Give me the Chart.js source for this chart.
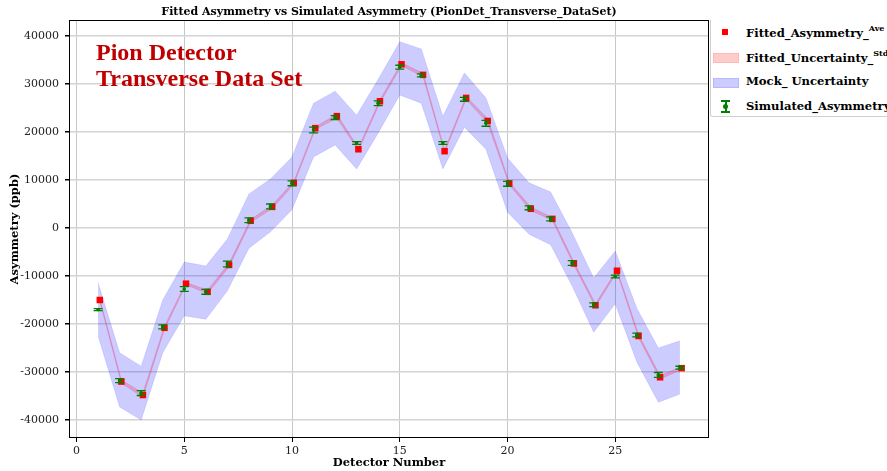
<!DOCTYPE html>
<html>
<head>
<meta charset="utf-8">
<script src="https://cdn.jsdelivr.net/npm/chart.js@4.4.1/dist/chart.umd.min.js"></script>
<style>
  body { margin: 0; background: #fff; }
  #wrap { position: relative; width: 887px; height: 471px; overflow: hidden; }
  #legend { position: absolute; left: 710px; top: 20px; width: 200px; height: 96px;
            border: 1px solid #d0d0d0; border-top: none; border-radius: 0 0 0 3px; background: #fff;
            font-family: "DejaVu Serif", serif; font-weight: bold; font-size: 11.6px; color: #000; }
  .item { position: absolute; left: 35px; white-space: nowrap; }
  .item sup { font-size: 8px; position: relative; top: -1px; }
  .sw { position: absolute; }
</style>
</head>
<body>
<div id="wrap">
  <canvas id="chart" width="887" height="471"></canvas>
  <div id="legend">
    <div class="sw" style="left:11px;top:9px;width:6px;height:6px;background:#ff0000"></div>
    <div class="item" style="top:4px">Fitted_Asymmetry_<sup>Ave</sup></div>
    <div class="sw" style="left:2px;top:33px;width:24px;height:8px;background:rgba(255,0,0,0.2);border:1px solid rgba(255,0,0,0.1)"></div>
    <div class="item" style="top:29px">Fitted_Uncertainty_<sup>Std</sup></div>
    <div class="sw" style="left:2px;top:58px;width:24px;height:8px;background:rgba(0,0,255,0.2);border:1px solid rgba(0,0,255,0.1)"></div>
    <div class="item" style="top:54px">Mock_ Uncertainty</div>
    <div class="sw" style="left:14px;top:80px;width:1.5px;height:12px;background:green"></div>
    <div class="sw" style="left:10px;top:80px;width:9px;height:1.5px;background:green"></div>
    <div class="sw" style="left:10px;top:91px;width:9px;height:1.5px;background:green"></div>
    <div class="sw" style="left:12px;top:84px;width:5px;height:5px;border-radius:50%;background:green"></div>
    <div class="item" style="top:79px">Simulated_Asymmetry</div>
  </div>
</div>
<script>
const detectors = [1, 2, 3, 4, 5, 6, 7, 8, 9, 10, 11, 12, 13, 14, 15, 16, 17, 18, 19, 20, 21, 22, 23, 24, 25, 26, 27, 28];
const fittedAsym = [-15000, -32000, -34800, -20800, -11600, -13300, -7700, 1500, 4400, 9400, 20800, 23300, 16400, 26400,
                    34100, 31900, 16000, 27100, 22300, 9300, 4000, 1900, -7400, -16100, -8900, -22500, -31100, -29200];
const fittedStd = [250, 300, 450, 300, 250, 350, 350, 300, 350, 300, 250, 400, 250, 300,
                   300, 350, 250, 300, 450, 300, 350, 300, 300, 300, 250, 300, 350, 300];
const simAsym = [-17000, -31800, -34400, -20600, -12700, -13300, -7500, 1600, 4500, 9300, 20400, 23000, 17700, 26000,
                 33500, 31800, 17700, 26800, 21800, 9200, 4200, 1900, -7300, -16000, -10100, -22300, -30600, -29100];
const simErr = [200, 400, 500, 400, 500, 500, 600, 500, 500, 500, 600, 400, 300, 500,
                400, 300, 300, 400, 600, 500, 400, 400, 500, 400, 300, 400, 500, 300];
const mockUpper = [-11400, -26000, -28800, -15000, -7100, -7900, -2300, 7100, 10200, 14800, 26000, 28500, 23500, 31000,
                   38800, 37300, 23300, 32300, 27100, 14600, 9400, 7500, -1000, -10400, -4800, -16700, -25000, -23500];
const mockLower = [-22500, -37300, -40000, -26000, -18300, -19000, -13100, -4200, -800, 3800, 14800, 17300, 12300, 19800,
                   27700, 26000, 12300, 21000, 16400, 3300, -1300, -3500, -12100, -21700, -15800, -27900, -36300, -34600];
const xTicks = [0, 5, 10, 15, 20, 25];
const yTicks = [-40000, -30000, -20000, -10000, 0, 10000, 20000, 30000, 40000];

const fittedShift = 0.08; // red markers sit a hair right of the green bars
const pts = (ys) => detectors.map((d, i) => ({ x: d, y: ys[i] }));

// frame, error bars, title, axis labels, annotation
const extras = {
    id: 'extras',
    afterDatasetsDraw(chart) {
        const { ctx, scales: { x, y } } = chart;
        ctx.save();
        ctx.strokeStyle = 'green';
        ctx.fillStyle = 'green';
        ctx.lineWidth = 1.3;
        detectors.forEach((d, i) => {
            const px = x.getPixelForValue(d);
            const top = y.getPixelForValue(simAsym[i] + simErr[i]);
            const bot = y.getPixelForValue(simAsym[i] - simErr[i]);
            ctx.beginPath();
            ctx.moveTo(px, top); ctx.lineTo(px, bot);
            ctx.moveTo(px - 4.5, top); ctx.lineTo(px + 4.5, top);
            ctx.moveTo(px - 4.5, bot); ctx.lineTo(px + 4.5, bot);
            ctx.stroke();
            ctx.beginPath();
            ctx.arc(px, y.getPixelForValue(simAsym[i]), 1.8, 0, Math.PI * 2);
            ctx.fill();
        });
        ctx.restore();
    },
    afterDraw(chart) {
        const { ctx, chartArea: a } = chart;
        ctx.save();
        ctx.strokeStyle = '#000';
        ctx.lineWidth = 1;
        ctx.strokeRect(a.left + 0.5, a.top + 0.5, a.right - a.left - 1, a.bottom - a.top - 1);

        const cx = (a.left + a.right) / 2;
        ctx.fillStyle = '#000';
        ctx.textAlign = 'center';
        ctx.textBaseline = 'middle';
        ctx.font = 'bold 11px "DejaVu Serif"';
        ctx.fillText('Fitted Asymmetry vs Simulated Asymmetry (PionDet_Transverse_DataSet)', cx, 12);
        ctx.font = 'bold 11.5px "DejaVu Serif"';
        ctx.fillText('Detector Number', cx, 463);
        ctx.save();
        ctx.translate(15, (a.top + a.bottom) / 2);
        ctx.rotate(-Math.PI / 2);
        ctx.fillText('Asymmetry (ppb)', 0, 0);
        ctx.restore();

        ctx.fillStyle = '#c00000';
        ctx.textAlign = 'left';
        ctx.font = 'bold 24px "Liberation Serif"';
        ctx.fillText('Pion Detector', 96, 54);
        ctx.fillText('Transverse Data Set', 96, 80);
        ctx.restore();
    }
};

new Chart(document.getElementById('chart'), {
    type: 'scatter',
    data: {
        datasets: [
            {
                label: 'Mock upper',
                data: pts(mockUpper),
                showLine: true,
                borderColor: 'rgba(0,0,255,0.1)',
                borderWidth: 1,
                pointRadius: 0,
                fill: false,
                order: 5
            },
            {
                label: 'Mock_ Uncertainty',
                data: pts(mockLower),
                showLine: true,
                borderColor: 'rgba(0,0,255,0.1)',
                backgroundColor: 'rgba(0,0,255,0.2)',
                borderWidth: 1,
                pointRadius: 0,
                fill: '-1',
                order: 4
            },
            {
                label: 'Fitted upper',
                data: detectors.map((d, i) => ({ x: d + fittedShift, y: fittedAsym[i] + fittedStd[i] })),
                showLine: true,
                borderColor: 'rgba(230,60,110,0.25)',
                borderWidth: 1,
                pointRadius: 0,
                fill: false,
                order: 3
            },
            {
                label: 'Fitted_Uncertainty_Std',
                data: detectors.map((d, i) => ({ x: d + fittedShift, y: fittedAsym[i] - fittedStd[i] })),
                showLine: true,
                borderColor: 'rgba(230,60,110,0.25)',
                backgroundColor: 'rgba(230,60,110,0.3)',
                borderWidth: 1,
                pointRadius: 0,
                fill: '-1',
                order: 2
            },
            {
                label: 'Fitted_Asymmetry_Ave',
                data: detectors.map((d, i) => ({ x: d + fittedShift, y: fittedAsym[i] })),
                pointStyle: 'rect',
                pointRadius: 4.6,
                pointBorderWidth: 0,
                backgroundColor: '#ff0000',
                borderColor: '#ff0000',
                order: 1
            }
        ]
    },
    plugins: [extras],
    options: {
        responsive: false,
        animation: false,
        layout: { padding: { left: 0, top: 20, right: 178, bottom: 0 } },
        plugins: { legend: { display: false }, tooltip: { enabled: false } },
        scales: {
            x: {
                type: 'linear',
                min: -0.35,
                max: 29.35,
                afterFit(scale) { scale.height = 33; },
                afterBuildTicks(scale) { scale.ticks = xTicks.map(v => ({ value: v })); },
                grid: { color: '#c8c8c8', lineWidth: 1, tickColor: '#000', tickLength: 4 },
                border: { display: false },
                ticks: { color: '#222', padding: 3, font: { family: 'DejaVu Serif', size: 11 } }
            },
            y: {
                type: 'linear',
                min: -43750,
                max: 43330,
                afterFit(scale) { scale.width = 69; },
                afterBuildTicks(scale) { scale.ticks = yTicks.map(v => ({ value: v })); },
                grid: { color: '#d4d4d4', lineWidth: 1.5, tickColor: '#000', tickLength: 4 },
                border: { display: false },
                ticks: { color: '#222', padding: 6, font: { family: 'DejaVu Serif', size: 11 },
                         callback: v => String(v) }
            }
        }
    }
});
</script>
</body>
</html>
